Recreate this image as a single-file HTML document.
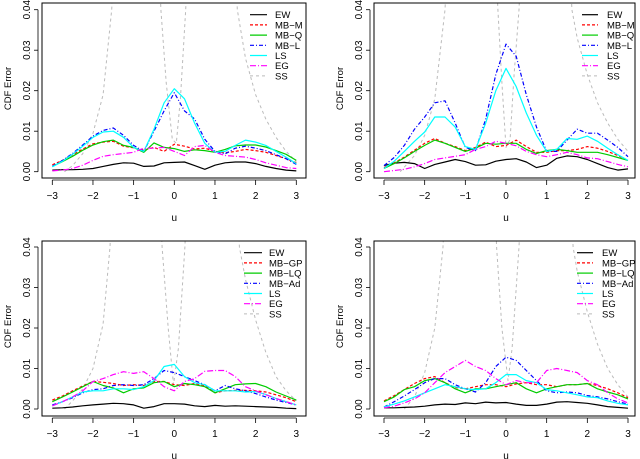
<!DOCTYPE html>
<html><head><meta charset="utf-8"><style>
html,body{margin:0;padding:0;background:#fff;}
svg{display:block;font-family:"Liberation Sans",sans-serif;}
</style></head><body>
<svg id="fig" width="640" height="459" viewBox="0 0 640 459" xmlns="http://www.w3.org/2000/svg"></svg>
<script>
// Shared u grid (step 0.25), values in units of 0.001
const uGrid=[-3,-2.75,-2.5,-2.25,-2,-1.75,-1.5,-1.25,-1,-0.75,-0.5,-0.25,0,0.25,0.5,0.75,1,1.25,1.5,1.75,2,2.25,2.5,2.75,3];
const yTicks=[0,0.01,0.02,0.03,0.04];
const yTickLabels=["0.00","0.01","0.02","0.03","0.04"];
const xTicks=[-3,-2,-1,0,1,2,3];
const xTickLabels=["\u22123","\u22122","\u22121","0","1","2","3"];

// Panel 1
const p1Names=["EW","MB\u2212M","MB\u2212Q","MB\u2212L","LS","EG","SS"];
const p1EW=[0.4,0.5,0.5,0.6,0.8,1.3,1.8,2.2,2.1,1.3,1.4,2.2,2.3,2.4,1.5,0.6,1.6,2.2,2.4,2.4,2.0,1.3,0.8,0.4,0.2];
const p1M=[1.7,2.8,4.2,5.6,6.9,7.3,7.5,6.3,5.9,5.3,6.0,5.0,6.8,6.3,5.6,5.8,5.0,4.7,5.0,5.5,5.2,4.8,4.0,3.2,2.2];
const p1Q=[1.3,2.5,3.8,5.3,6.6,7.4,7.8,6.5,6.0,4.8,7.1,6.0,5.7,5.0,5.4,5.2,4.8,5.5,6.4,6.6,6.6,6.1,5.2,4.3,2.8];
const p1L=[1.3,2.8,4.5,6.6,8.8,10.2,10.8,9.0,6.5,5.0,10.0,15.0,19.5,15.0,13.0,8.0,5.0,4.4,5.8,6.3,5.8,5.2,4.2,3.2,1.8];
const p1LS=[1.2,2.6,4.3,6.3,8.5,9.8,10.0,8.5,6.0,5.0,10.5,17.0,20.5,18.0,12.0,7.0,4.8,5.0,6.5,7.8,7.3,6.5,5.0,3.6,2.0];
const p1EG=[0.2,0.4,0.8,1.6,2.8,3.8,4.2,4.5,4.8,5.8,5.8,6.0,5.0,4.0,6.2,6.5,4.8,4.0,3.8,3.6,3.0,2.2,1.6,1.0,0.8];
const p1SSu=[-2.7,-2.5,-2.25,-2,-1.75,-1.54,-1.4,-0.45,-0.33,-0.2,-0.05,0.05,0.15,0.28,0.4,1.45,1.55,1.75,2,2.25,2.5,2.75,3];
const p1SS=[0,1.5,4.5,9.5,19,40,70,70,40,22,8,7,18,40,70,70,40,28,19,13,8.5,5,2.5];

// Panel 2
const p2Names=["EW","MB\u2212M","MB\u2212Q","MB\u2212L","LS","EG","SS"];
const p2EW=[1.5,2.1,2.3,2.0,0.8,1.8,2.4,3.0,2.5,1.6,1.7,2.6,3.0,3.2,2.4,1.0,1.6,3.3,3.9,3.7,3.0,2.0,1.0,0.4,0.7];
const p2M=[1.0,2.2,3.6,5.3,7.0,8.2,7.0,6.2,5.2,6.0,7.3,6.2,6.5,7.8,6.2,4.8,4.8,5.2,5.2,5.5,6.2,5.8,5.0,4.0,2.8];
const p2Q=[0.8,2.0,3.4,5.0,6.5,7.8,7.0,6.0,5.0,5.8,7.0,6.8,7.0,7.0,5.5,4.5,5.2,5.5,5.2,4.8,4.8,4.8,4.2,3.5,2.8];
const p2L=[1.5,3.5,6.5,10.5,13.5,17.0,17.5,12.0,6.0,5.2,13.0,24.0,31.5,28.5,19.0,11.0,5.0,5.0,7.8,10.5,9.5,9.5,7.8,6.0,3.7];
const p2LS=[0.8,2.6,5.0,7.5,9.8,13.5,13.5,11.0,6.2,5.5,12.0,20.0,25.5,21.0,14.5,9.0,5.0,5.5,8.2,8.0,8.8,7.5,5.8,4.2,2.8];
const p2EG=[0,0.3,0.6,1.2,2.0,3.0,3.4,3.8,4.2,5.5,6.2,7.5,7.0,6.4,5.0,4.2,3.7,4.2,4.8,4.2,3.4,3.2,2.5,1.8,1.2];
const p2SSu=[-2.6,-2.25,-2,-1.75,-1.5,-1.35,-0.32,-0.2,-0.1,0,0.1,0.2,0.32,0.45,1.5,1.62,1.75,2,2.25,2.5,2.75,3];
const p2SS=[0,4,9,18,40,70,70,40,22,6,8,24,40,70,70,40,33,24,17,12,8,5];

// Panel 3
const p3Names=["EW","MB\u2212GP","MB\u2212LQ","MB\u2212Ad","LS","EG","SS"];
const p3EW=[0.2,0.3,0.5,0.8,1.0,1.2,1.4,1.3,1.0,0.2,0.6,1.3,1.3,1.2,0.8,0.6,0.9,0.7,0.8,0.7,0.6,0.5,0.4,0.2,0.1];
const p3M=[2.2,3.2,4.5,5.7,6.8,6.6,6.3,5.8,6.0,5.8,6.8,6.8,6.0,5.8,6.3,5.8,4.0,4.5,4.6,4.6,4.5,4.2,3.5,2.8,1.8];
const p3Q=[1.8,3.0,4.2,5.5,6.8,5.8,5.2,4.0,5.0,5.2,6.5,6.8,5.5,6.3,6.0,5.5,4.0,5.0,6.0,6.2,6.3,5.5,4.2,3.2,2.2];
const p3L=[1.0,1.8,2.8,4.0,4.8,5.0,5.8,6.0,5.8,6.0,7.5,9.5,9.0,8.0,7.0,6.0,4.5,5.8,5.0,4.5,3.8,3.0,2.2,1.6,1.0];
const p3LS=[0.8,1.8,3.0,4.2,4.5,4.5,5.0,5.0,4.8,5.5,7.0,10.5,11.0,8.0,6.5,6.0,4.5,4.5,4.5,4.2,4.3,3.6,2.6,1.8,1.0];
const p3EG=[0.8,1.8,3.0,4.5,6.8,7.5,8.5,9.2,8.8,9.2,7.5,5.5,4.5,6.8,7.5,9.3,9.5,9.5,8.0,5.5,4.5,3.5,2.6,1.8,1.0];
const p3SSu=[-2.7,-2.5,-2.25,-2,-1.75,-1.58,-1.45,-0.42,-0.3,-0.15,-0.02,0.1,0.26,0.38,1.48,1.6,1.75,2,2.25,2.5,2.75,3];
const p3SS=[0,2,5,10,21,40,70,70,40,20,6,15,40,70,70,40,32,22,14,8,4.5,2];

// Panel 4
const p4Names=["EW","MB\u2212GP","MB\u2212LQ","MB\u2212Ad","LS","EG","SS"];
const p4EW=[0.3,0.3,0.4,0.5,0.7,1.0,1.2,1.1,1.5,1.3,1.7,1.5,1.6,1.2,0.9,0.9,1.2,1.7,1.8,1.6,1.4,1.0,0.6,0.4,0.2];
const p4M=[2.0,3.3,4.8,6.3,7.5,8.0,6.5,5.3,5.0,5.5,6.0,6.0,5.5,6.2,6.5,6.0,6.0,5.5,6.0,6.0,6.3,5.8,5.0,4.0,2.8];
const p4Q=[1.8,3.0,4.8,5.5,7.0,7.5,6.5,5.0,4.0,5.0,5.0,5.5,6.0,6.5,5.0,4.0,5.0,5.5,6.0,6.0,6.3,5.0,4.2,3.5,2.5];
const p4L=[0.5,1.8,3.2,4.8,6.5,7.5,7.5,6.0,5.0,4.2,6.5,10.5,12.8,12.0,9.5,7.0,4.5,4.0,4.2,4.0,3.3,3.0,2.5,1.8,1.2];
const p4LS=[0.5,1.2,2.0,3.0,4.0,5.0,6.0,5.5,5.0,4.8,5.0,6.5,8.5,8.5,7.0,6.5,4.8,4.5,4.0,3.5,3.0,2.8,2.0,1.4,1.0];
const p4EG=[0.3,0.7,1.5,2.5,4.0,6.5,9.0,10.5,12.0,10.5,9.5,7.5,6.0,7.0,6.5,6.5,9.5,10.0,9.5,9.0,7.0,6.0,4.0,2.5,1.5];
const p4SSu=[-2.5,-2.25,-2,-1.75,-1.55,-1.42,-0.35,-0.23,-0.1,0.05,0.15,0.32,0.45,1.52,1.65,1.75,2,2.25,2.5,2.75,3];
const p4SS=[0,3,9,20,40,70,70,40,20,7,15,40,70,70,40,34,24,16,10,6,3];

const styles=[
 {c:"#000000",d:"",w:1.2},
 {c:"#ff0000",d:"3,2",w:1.2},
 {c:"#00cc00",d:"",w:1.2},
 {c:"#0000ff",d:"4,2,1,2",w:1.2},
 {c:"#00ffff",d:"",w:1.2},
 {c:"#ff00ff",d:"6,2,1,2",w:1.2},
 {c:"#bbbbbb",d:"3,3",w:1.0}
];
const NS="http://www.w3.org/2000/svg";
const svg=document.getElementById('fig');
function mk(tag,attrs,parent){const e=document.createElementNS(NS,tag);for(const k in attrs)e.setAttribute(k,attrs[k]);(parent||svg).appendChild(e);return e;}

const panels=[
 {id:"top-left",box:[42,3,306,178],x0:52.3,x3:296.3,y0:171.7,y4:9.7,names:p1Names,series:[p1EW,p1M,p1Q,p1L,p1LS,p1EG],ssu:p1SSu,ss:p1SS,leg:[250,267,275,14.7]},
 {id:"top-right",box:[374,3,635,178],x0:384,x3:628,y0:171.7,y4:9.7,names:p2Names,series:[p2EW,p2M,p2Q,p2L,p2LS,p2EG],ssu:p2SSu,ss:p2SS,leg:[582,598,607,14.7]},
 {id:"bottom-left",box:[42,241,306,416],x0:52.3,x3:296.3,y0:409,y4:247,names:p3Names,series:[p3EW,p3M,p3Q,p3L,p3LS,p3EG],ssu:p3SSu,ss:p3SS,leg:[244,262,269,252.7]},
 {id:"bottom-right",box:[374,241,635,416],x0:384,x3:628,y0:409,y4:247,names:p4Names,series:[p4EW,p4M,p4Q,p4L,p4LS,p4EG],ssu:p4SSu,ss:p4SS,leg:[577,593,602,252.7]}
];

panels.forEach((p,pi)=>{
 const g=mk('g',{});
 
 
 const xs=u=>p.x0+(u+3)/6*(p.x3-p.x0);
 const ys=v=>p.y0+v/0.04*(p.y4-p.y0);
 const [bx1,by1,bx2,by2]=p.box;
 const cid='clip'+pi;
 const cp=mk('clipPath',{id:cid},g);mk('rect',{x:bx1,y:by1,width:bx2-bx1,height:by2-by1},cp);
 const lg=mk('g',{'clip-path':'url(#'+cid+')'},g);
 const all=p.series.map(s=>({u:uGrid,v:s}));
 all.push({u:p.ssu,v:p.ss});
 const order=[6,0,1,2,3,4,5];
 order.forEach(i=>{
  const s=all[i],st=styles[i];
  const pts=s.u.map((u,k)=>xs(u).toFixed(1)+","+ys(s.v[k]/1000).toFixed(1)).join(" ");
  const pl=mk('polyline',{points:pts,fill:'none',stroke:st.c,'stroke-width':st.w,'stroke-dasharray':st.d,'stroke-linejoin':'round'},lg);
  
  
 });
 const box=mk('rect',{x:bx1,y:by1,width:bx2-bx1,height:by2-by1,fill:'none',stroke:'#000','stroke-width':1},g);
 
 
 const ya=mk('g',{},g);
 
 
 mk('line',{x1:bx1-4,x2:bx1-4,y1:ys(0),y2:ys(0.04),stroke:'#000','stroke-width':0.8},ya);
 yTicks.forEach((t,k)=>{
  const y=ys(t);
  mk('line',{x1:bx1-8,x2:bx1-4,y1:y,y2:y,stroke:'#000','stroke-width':0.8},ya);
  const tx=mk('text',{x:bx1-12,y:y,'font-size':10,'text-anchor':'middle',transform:'rotate(-90 '+(bx1-12)+' '+y+')',fill:'#000'},ya);
  tx.textContent=yTickLabels[k];
 });
 const yl=mk('text',{x:bx1-31,y:(by1+by2)/2-2,'font-size':9.5,'text-anchor':'middle',transform:'rotate(-90 '+(bx1-31)+' '+((by1+by2)/2-2)+')'},g);
 
 
 yl.textContent='CDF Error';
 const xa=mk('g',{},g);
 
 
 mk('line',{x1:xs(-3),x2:xs(3),y1:by2+2,y2:by2+2,stroke:'#000','stroke-width':0.8},xa);
 xTicks.forEach((t,k)=>{
  const x=xs(t);
  mk('line',{x1:x,x2:x,y1:by2+2,y2:by2+7,stroke:'#000','stroke-width':0.8},xa);
  const tx=mk('text',{x:x,y:by2+21,'font-size':10,'text-anchor':'middle'},xa);
  tx.textContent=xTickLabels[k];
 });
 const xl=mk('text',{x:(xs(-3)+xs(3))/2,y:by2+43,'font-size':10,'text-anchor':'middle'},g);
 
 
 xl.textContent='u';
 const [lx1,lx2,tx0,ly0]=p.leg;
 const leg=mk('g',{},g);
 
 
 p.names.forEach((n,i)=>{
  const y=ly0+i*10.2;const st=styles[i];
  const e=mk('g',{},leg);
  
  
  mk('line',{x1:lx1,x2:lx2,y1:y,y2:y,stroke:st.c,'stroke-width':st.w,'stroke-dasharray':st.d},e);
  const t=mk('text',{x:tx0,y:y+3.5,'font-size':9.5},e);
  t.textContent=n;
 });
});
</script>
</body></html>
